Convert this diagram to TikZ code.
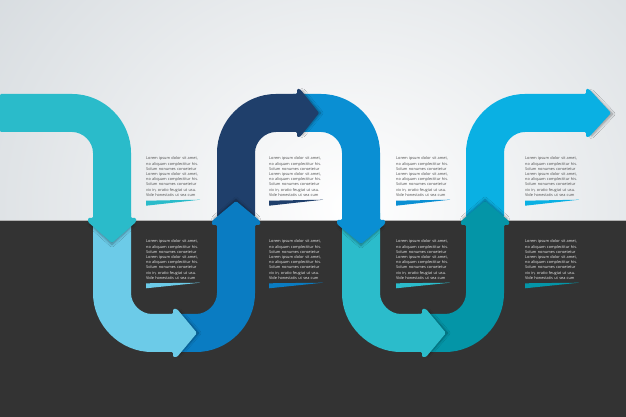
\documentclass[tikz,border=0pt]{standalone}
\usepackage{fontspec}
\newfontfamily\loremfont{Open Sans}
\usetikzlibrary{shadows.blur}
\definecolor{cA}{HTML}{2ABBCA}
\definecolor{cB}{HTML}{6CCBE8}
\definecolor{cC}{HTML}{0A7CC2}
\definecolor{cD}{HTML}{1F3F6B}
\definecolor{cE}{HTML}{0A8FD3}
\definecolor{cF}{HTML}{2BBCCB}
\definecolor{cG}{HTML}{0495A7}
\definecolor{cH}{HTML}{0AB0E3}
\definecolor{darkbg}{HTML}{333333}
\definecolor{lightbg}{HTML}{D6DBDF}
\definecolor{txtgray}{HTML}{4A4A4A}
\definecolor{txtlight}{HTML}{EDEDED}
\newcommand\loremline[1]{\makebox[55pt][s]{#1}}
\newcommand\loremblock{\loremline{Lorem ipsum dolor sit amet,}\\\loremline{no aliquam complectitur his.}\\\loremline{Solum nonumes consetetur}\\\loremline{Lorem ipsum dolor sit amet,}\\\loremline{no aliquam complectitur his.}\\\loremline{Solum nonumes consetetur}\\\loremline{vix in, oratio feugiat ut usu.}\\\loremline{Vide honestatis ut sea cum}}
\tikzset{
  lorem/.style={font=\loremfont\fontsize{3.85}{5.2}\selectfont, text width=55pt, align=left, inner sep=0pt, anchor=base west},
  upper/.style={lorem, text=txtgray},
  lower/.style={lorem, text=txtlight},
  band/.style={fill=#1, rounded corners=1.2pt},
  hshadow/.style 2 args={blur shadow={shadow xshift=#1, shadow yshift=#2, shadow opacity=38, shadow blur radius=2.5pt, shadow blur steps=6}},
}
\begin{document}
\begin{tikzpicture}[x=1pt,y=1pt]
\useasboundingbox (0,0) rectangle (626,417);
% background
\begin{scope}
\clip (0,196) rectangle (626,417);
\shade[inner color=white, outer color=lightbg] (-100,-180) rectangle (800,600);
\end{scope}
\fill[darkbg] (0,0) rectangle (626,196);
\draw[line width=0.7pt, color=gray!60] (0,196.35) -- (626,196.35);

% arch 2 (cyan)
\path[hshadow={2.5pt}{-1pt}] (589,326) -- (610,304) -- (589,282) -- cycle;
\path[band=cH] (466,200) -- (466,263) arc[start angle=180,end angle=90,radius=60] -- (586,323) -- (586,328) -- (589,328) -- (611,304) -- (589,280) -- (586,280) -- (586,285) -- (526,285) arc[start angle=90,end angle=180,radius=22] -- (504,200) -- cycle;
% U2 right (dark teal)
\path[hshadow={0pt}{2.5pt}] (507,196) -- (485,215) -- (463,196) -- cycle;
\path[band=cG] (417,65) -- (444,65) arc[start angle=270,end angle=360,radius=60] -- (504,192) -- (509,192) -- (509,196) -- (485,216) -- (461,196) -- (461,192) -- (466,192) -- (466,125) arc[start angle=0,end angle=-90,radius=22] -- (417,103) -- cycle;
% U2 left (teal)
\path[hshadow={2.5pt}{0pt}] (426,62) -- (445,84) -- (426,106) -- cycle;
\path[band=cF] (342,205) -- (342,125) arc[start angle=180,end angle=270,radius=60] -- (422,65) -- (422,60) -- (426,60) -- (446,84) -- (426,108) -- (422,108) -- (422,103) -- (402,103) arc[start angle=270,end angle=180,radius=22] -- (380,205) -- cycle;
% arch 1 right (blue)
\path[hshadow={0pt}{-2.5pt}] (383,193) -- (361,174) -- (339,193) -- cycle;
\path[band=cE] (292,323) -- (320,323) arc[start angle=90,end angle=0,radius=60] -- (380,197) -- (385,197) -- (385,193) -- (361,173) -- (337,193) -- (337,197) -- (342,197) -- (342,263) arc[start angle=0,end angle=90,radius=22] -- (292,285) -- cycle;
% arch 1 left (navy)
\path[hshadow={2.5pt}{0pt}] (300,326) -- (318,304) -- (300,282) -- cycle;
\path[band=cD] (217,200) -- (217,263) arc[start angle=180,end angle=90,radius=60] -- (297,323) -- (297,328) -- (300,328) -- (319,304) -- (300,280) -- (297,280) -- (297,285) -- (277,285) arc[start angle=90,end angle=180,radius=22] -- (255,200) -- cycle;
% U1 right (blue)
\path[hshadow={0pt}{2.5pt}] (258,196) -- (236,215) -- (214,196) -- cycle;
\path[band=cC] (168,65) -- (195,65) arc[start angle=270,end angle=360,radius=60] -- (255,192) -- (260,192) -- (260,196) -- (236,216) -- (212,196) -- (212,192) -- (217,192) -- (217,125) arc[start angle=0,end angle=-90,radius=22] -- (168,103) -- cycle;
% U1 left (light blue)
\path[hshadow={2.5pt}{0pt}] (177,62) -- (196,84) -- (177,106) -- cycle;
\path[band=cB] (93,205) -- (93,125) arc[start angle=180,end angle=270,radius=60] -- (173,65) -- (173,60) -- (177,60) -- (197,84) -- (177,108) -- (173,108) -- (173,103) -- (153,103) arc[start angle=270,end angle=180,radius=22] -- (131,205) -- cycle;
% arch 0 (teal)
\path[hshadow={0pt}{-2.5pt}] (134,195) -- (112,175) -- (90,195) -- cycle;
\path[band=cA] (0,323) -- (71,323) arc[start angle=90,end angle=0,radius=60] -- (131,199) -- (136,199) -- (136,195) -- (112,174) -- (88,195) -- (88,199) -- (93,199) -- (93,263) arc[start angle=0,end angle=90,radius=22] -- (0,285) -- cycle;

% text blocks
\node[upper] (t1) at (146,257) {\loremblock};
\node[upper] (t2) at (269,257) {\loremblock};
\node[upper] (t3) at (396,257) {\loremblock};
\node[upper] (t4) at (525,257) {\loremblock};
\node[lower] (b1) at (146,174) {\loremblock};
\node[lower] (b2) at (269,174) {\loremblock};
\node[lower] (b3) at (396,174) {\loremblock};
\node[lower] (b4) at (525,174) {\loremblock};

% wedges
\fill[cA] (146,216.3) -- (200,217.3) -- (146,211.3) -- cycle;
\fill[cD] (269,216.3) -- (323,217.3) -- (269,211.3) -- cycle;
\fill[cE] (396,216.3) -- (450,217.3) -- (396,211.3) -- cycle;
\fill[cH] (525,216.3) -- (579,217.3) -- (525,211.3) -- cycle;
\fill[cB] (146,133.7) -- (200,134.3) -- (146,128.7) -- cycle;
\fill[cC] (269,133.7) -- (323,134.3) -- (269,128.7) -- cycle;
\fill[cF] (396,133.7) -- (450,134.3) -- (396,128.7) -- cycle;
\fill[cG] (525,133.7) -- (579,134.3) -- (525,128.7) -- cycle;
\end{tikzpicture}
\end{document}
